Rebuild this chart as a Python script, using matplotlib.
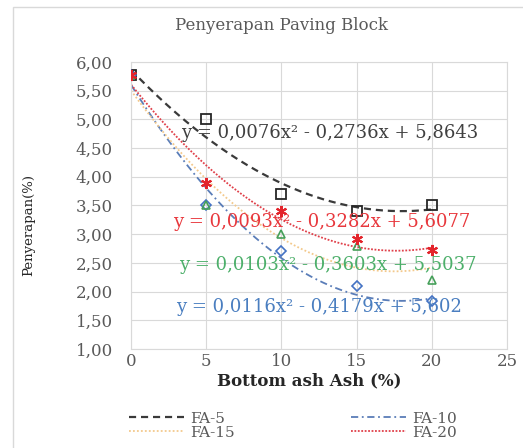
import numpy as np
import matplotlib
matplotlib.use("Agg")
import matplotlib.pyplot as plt
from matplotlib.patches import Rectangle

# ---- data ----
x_vals = [0, 5, 10, 15, 20]
fa5 = [5.78, 5.00, 3.70, 3.40, 3.50]
fa10 = [5.78, 3.50, 2.70, 2.10, 1.83]
fa15 = [5.78, 3.50, 3.00, 2.80, 2.21]
fa20 = [5.78, 3.90, 3.40, 2.92, 2.73]

# trendline coefficients as printed on the chart (a x^2 + b x + c)
coef_fa5 = [0.0076, -0.2736, 5.8643]
coef_fa10 = [0.0116, -0.4179, 5.602]
coef_fa15 = [0.0103, -0.3603, 5.5037]
coef_fa20 = [0.0093, -0.3282, 5.6077]

eq_fa5 = "y = 0,0076x² - 0,2736x + 5,8643"
eq_fa10 = "y = 0,0116x² - 0,4179x + 5,602"
eq_fa15 = "y = 0,0103x² - 0,3603x + 5,5037"
eq_fa20 = "y = 0,0093x² - 0,3282x + 5,6077"

x_ticks = [0, 5, 10, 15, 20, 25]
y_ticks = [1.0, 1.5, 2.0, 2.5, 3.0, 3.5, 4.0, 4.5, 5.0, 5.5, 6.0]

plt.rcParams['font.family'] = ['DejaVu Serif']

fig = plt.figure(figsize=(5.23, 4.48), dpi=100)
fig.patch.set_facecolor('white')
fig.patches.append(Rectangle((13 / 523, -0.02), 1.2, 1 - 7 / 448 + 0.02,
                             transform=fig.transFigure, fill=False,
                             edgecolor='#D9D9D9', linewidth=1.0))

ax = fig.add_axes([0.2505, 0.221, 0.7189, 0.6406])

xs = np.linspace(0, 20, 200)

series = [
    ("FA-5", fa5, coef_fa5, eq_fa5, dict(marker='s', ms=7, mfc='none', mec='#262626', mew=1.3),
     dict(color='#3A3A3A', lw=1.6, dashes=(3.2, 2.2)), '#404040', (3.3, 4.77)),
    ("FA-10", fa10, coef_fa10, eq_fa10, dict(marker='D', ms=5, mfc='none', mec='#4472C4', mew=1.2),
     dict(color='#5A7DB8', lw=1.3, dashes=(4, 2, 1, 2)), '#4A7EC0', (3.0, 1.74)),
    ("FA-15", fa15, coef_fa15, eq_fa15, dict(marker='^', ms=6, mfc='none', mec='#46A05A', mew=1.2),
     dict(color='#F3C98C', lw=1.3, dashes=(1, 1.2)), '#4CAF6A', (3.2, 2.47)),
    ("FA-20", fa20, coef_fa20, eq_fa20, dict(marker=(6, 2, 0), ms=8, mfc='none', mec='#E3242B', mew=1.5),
     dict(color='#E0404A', lw=1.3, dashes=(1, 0.9)), '#E8383D', (2.8, 3.21)),
]

handles = {}
for name, vals, coef, eq, mk, ln, ecol, epos in series:
    ys = np.polyval(coef, xs)
    h, = ax.plot(xs, ys, label=name, zorder=2, **ln)
    handles[name] = h
for name, vals, coef, eq, mk, ln, ecol, epos in series:
    ax.plot(x_vals, vals, linestyle='none', zorder=3, **mk)
for name, vals, coef, eq, mk, ln, ecol, epos in series:
    ax.text(epos[0], epos[1], eq, color=ecol, fontsize=13, ha='left', va='center', zorder=4)

ax.set_xlim(0, 25)
ax.set_ylim(1.0, 6.0)
ax.set_xticks(x_ticks)
ax.set_yticks(y_ticks)
ax.set_xticklabels([str(v) for v in x_ticks])
ax.set_yticklabels([f"{v:.2f}".replace('.', ',') for v in y_ticks])
ax.tick_params(length=0, labelsize=12, labelcolor='#595959')
ax.tick_params(axis='x', pad=3)
ax.tick_params(axis='y', pad=13)
ax.grid(True, color='#D9D9D9', linewidth=0.8)
ax.set_axisbelow(True)
for s in ax.spines.values():
    s.set_color('#D9D9D9')
    s.set_linewidth(0.8)

fig.text(0.539, 0.942, "Penyerapan Paving Block", ha='center', va='center',
         fontsize=12, color='#595959')
fig.text(0.591, 0.150, "Bottom ash Ash (%)", ha='center', va='center',
         fontsize=12, fontweight='bold', color='#262626')
fig.text(0.054, 0.498, "Penyerapan(%)", ha='center', va='center', rotation=90,
         fontsize=9.5, color='#262626')

order = ["FA-5", "FA-15", "FA-10", "FA-20"]
fig.legend([handles[n] for n in order], order, ncol=2, loc='upper left',
           bbox_to_anchor=(0.232, 0.098), frameon=False, fontsize=11,
           handlelength=3.6, handletextpad=0.4, columnspacing=7.6,
           labelspacing=0.0, borderpad=0, labelcolor='#595959')

fig.savefig("out.png", dpi=100)
